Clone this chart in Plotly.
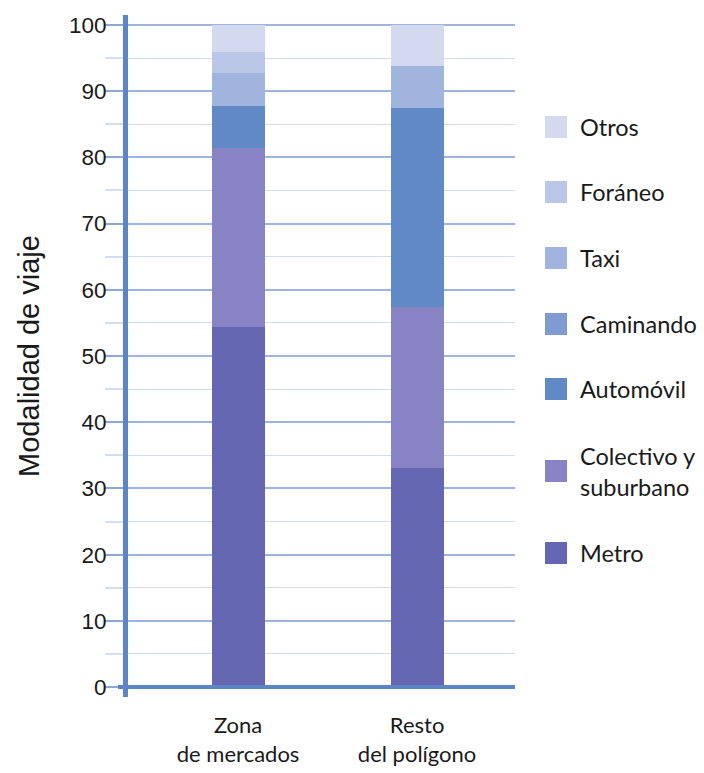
import plotly.graph_objects as go

# Travel mode share (%) for the two study areas
categories = ["Zona<br>de mercados", "Resto<br>del polígono"]
modes = ["Metro", "Colectivo y<br>suburbano", "Automóvil", "Caminando", "Taxi", "Foráneo", "Otros"]
metro = [54.4, 33.1]
colectivo = [27.0, 24.3]
automovil = [6.4, 30.0]
caminando = [0.0, 0.0]
taxi = [4.9, 6.4]
foraneo = [3.2, 0.0]
otros = [4.1, 6.2]
series = [metro, colectivo, automovil, caminando, taxi, foraneo, otros]
colors = ["#6567b2", "#8783c5", "#6089c6", "#7f9bd2", "#a1b4de", "#bac7e7", "#d3daef"]

yticks = list(range(0, 101, 10))
label_font = "Lato, Noto Sans, sans-serif"

fig = go.Figure()
for name, vals, col in zip(modes, series, colors):
    fig.add_trace(go.Bar(
        x=[0, 1], y=vals, name=name.replace("<br>", " "),
        marker=dict(color=col, line=dict(width=0)),
        width=0.296, showlegend=False,
    ))

# Hand-placed legend: top entry first (Otros), down to Metro
leg_y = [127, 192, 258, 324, 389, 471, 553]
for name, col, yp in zip(modes[::-1], colors[::-1], leg_y):
    fig.add_shape(type="rect", xref="paper", yref="paper",
                  x0=(545 - 128) / 387, x1=(567 - 128) / 387,
                  y0=(697 - (yp + 11)) / 682, y1=(697 - (yp - 11)) / 682,
                  fillcolor=col, line=dict(width=0))
    fig.add_annotation(xref="paper", yref="paper", x=(578 - 128) / 387,
                       y=(697 - yp) / 682, text=name, showarrow=False,
                       xanchor="left", yanchor="middle", align="left",
                       font=dict(family=label_font, size=23.5, color="#1a1a1a"))

# Baseline at zero, extending slightly left of the value axis
fig.add_shape(type="line", xref="paper", yref="y", x0=-10 / 387, x1=1, y0=0, y1=0,
              line=dict(color="#5b85c6", width=4))

fig.update_layout(
    barmode="stack",
    width=704, height=773,
    margin=dict(l=128, r=189, t=15, b=76),
    paper_bgcolor="white", plot_bgcolor="white",
    xaxis=dict(
        type="linear", range=[-0.615, 1.547], automargin=False,
        tickvals=[0, 1], ticktext=categories,
        showgrid=False, zeroline=False, showline=False,
        ticks="outside", ticklen=9, tickcolor="rgba(0,0,0,0)",
        tickfont=dict(family=label_font, size=22, color="#1a1a1a"),
    ),
    yaxis=dict(
        range=[-1.5, 101.5], automargin=False,
        tickvals=yticks,
        showline=True, linecolor="#5b85c6", linewidth=5,
        ticks="outside", ticklen=18, tickwidth=2, tickcolor="#8fa6dc",
        ticklabelstandoff=-6,
        showgrid=True, gridcolor="#9fb2e2", gridwidth=2,
        zeroline=False,
        minor=dict(dtick=5, showgrid=True, gridcolor="#d5dcf2", gridwidth=1,
                   ticks="outside", ticklen=18, tickcolor="#d5dcf2"),
        tickfont=dict(family="Liberation Sans, Arial, sans-serif", size=22.5, color="#1a1a1a"),
        title=dict(text="Modalidad de viaje", standoff=22,
                   font=dict(family="Liberation Sans, Arial, sans-serif", size=29, color="#1a1a1a")),
    ),
)

fig.write_html("out.html")
